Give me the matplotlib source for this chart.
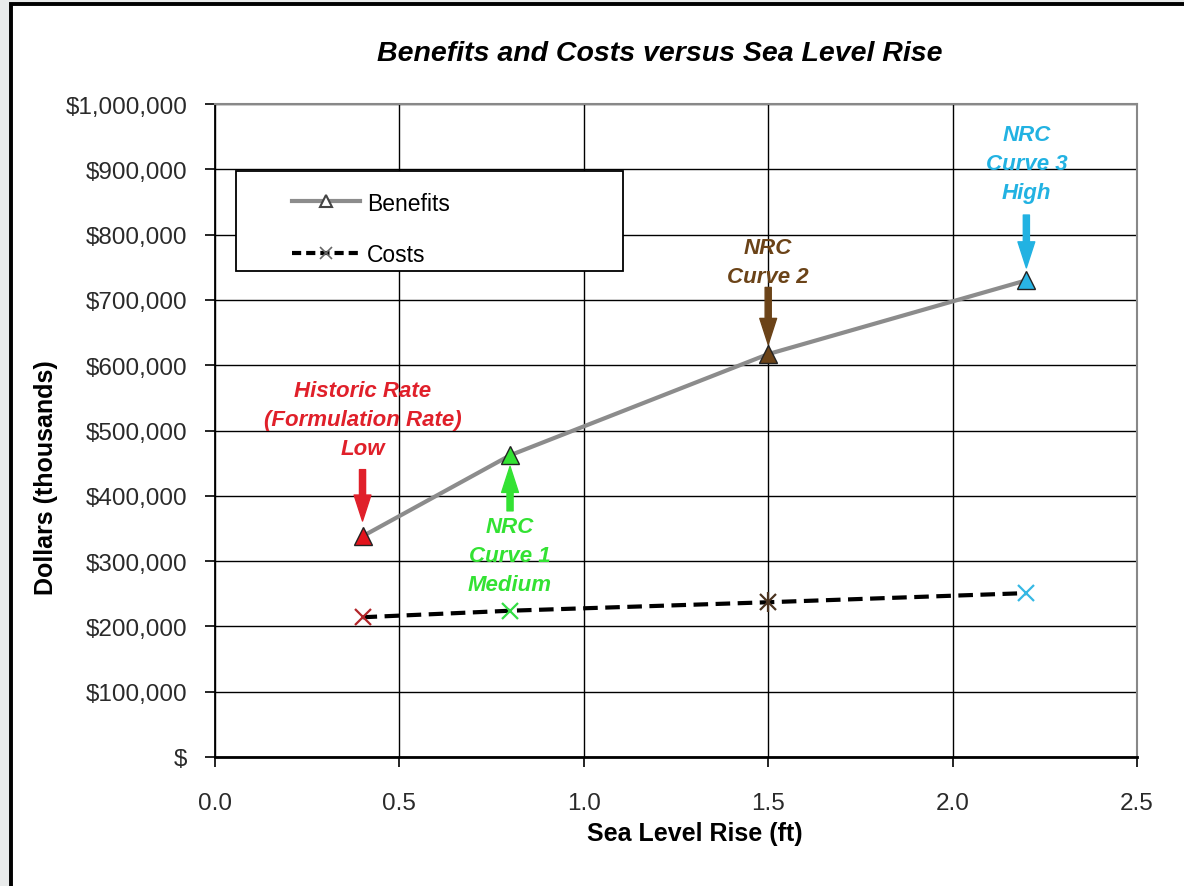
import numpy as np
import matplotlib
matplotlib.use('Agg')
import matplotlib.pyplot as plt
from matplotlib.patches import Rectangle
from matplotlib.lines import Line2D
from matplotlib.ticker import FuncFormatter

plt.rcParams['font.family'] = ['Liberation Sans', 'DejaVu Sans']

# --- data ---
sea_level = [0.4, 0.8, 1.5, 2.2]
benefits = [338000, 462000, 617000, 730000]
costs = [214000, 224000, 237000, 251000]

point_colors = ['#e3141c', '#33e233', '#6b4318', '#29b4e4']
cost_colors = ['#b3262a', '#33dd44', '#4a3320', '#35b8e4']

ann_labels = ['Historic Rate\n(Formulation Rate)\nLow', 'NRC\nCurve 1\nMedium',
              'NRC\nCurve 2', 'NRC\nCurve 3\nHigh']
ann_colors = ['#e0202a', '#33e233', '#6b4318', '#22b2e2']
# (text offset, arrow tail offset, arrow head gap) in points, sign = above(+)/below(-)
ann_layout = [(56, 48, 11), (-44, -40, 8), (48, 48, 7), (56, 47, 9)]

fig = plt.figure(figsize=(11.84, 8.87), dpi=100)
fig.patch.set_facecolor('#e9ebeb')
frame = Rectangle((11 / 1184, -0.05), 1.2, 1.05 - 5 / 887, transform=fig.transFigure,
                  facecolor='white', edgecolor='black', lw=2.8, zorder=-5)
fig.patches.append(frame)

ax = fig.add_axes([215 / 1184, 1 - 758 / 887, 922 / 1184, 653 / 887])
ax.set_zorder(2)
ax.set_facecolor('white')

ax.plot(sea_level, benefits, color='#8c8c8c', lw=3, zorder=3)
ax.plot(sea_level, costs, color='black', lw=3, dashes=(3.5, 1.8), zorder=3)
for x, b, c, pc, cc in zip(sea_level, benefits, costs, point_colors, cost_colors):
    ax.plot(x, b, marker='^', ms=13, mfc=pc, mec='#222222', mew=1, zorder=5)
    ax.plot(x, c, marker='x', ms=12, mec=cc, mew=1.6, zorder=5)
# star marker at 1.5 ft
ax.plot(sea_level[2], costs[2], marker='|', ms=14, mec=cost_colors[2], mew=1.6, zorder=5)

for x, b, lab, col, (t_off, a0, gap) in zip(sea_level, benefits, ann_labels, ann_colors, ann_layout):
    ax.annotate('', xy=(x, b), xytext=(0, a0), textcoords='offset points',
                arrowprops=dict(arrowstyle='simple,head_length=1.7,head_width=1.1,tail_width=0.4',
                                color=col, mutation_scale=11, shrinkA=0, shrinkB=gap),
                zorder=6)
    ax.annotate(lab, xy=(x, b), xytext=(0, t_off), textcoords='offset points',
                ha='center', va='bottom' if t_off > 0 else 'top', color=col,
                fontsize=16, fontweight='bold', fontstyle='italic', linespacing=1.5, zorder=7)

ax.set_xlim(0, 2.5)
ax.set_ylim(0, 1000000)
ax.set_xticks(np.arange(0, 2.51, 0.5))
ax.set_yticks(np.arange(0, 1000001, 100000))
ax.xaxis.set_major_formatter(FuncFormatter(lambda v, p: f'{v:.1f}'))
ax.yaxis.set_major_formatter(FuncFormatter(lambda v, p: '$' if v == 0 else f'${v:,.0f}'))
ax.grid(True, color='black', lw=1)
ax.set_axisbelow(True)
ax.tick_params(axis='both', direction='out', length=7, width=1.2, labelsize=17.5,
               labelcolor='#2a2a2a', color='black')
ax.tick_params(axis='x', pad=18)
ax.tick_params(axis='y', pad=13)

for s in ['top', 'right']:
    ax.spines[s].set_color('#888888')
    ax.spines[s].set_linewidth(1.5)
ax.spines['left'].set_linewidth(1.3)
ax.spines['bottom'].set_linewidth(2)

ax.set_xlabel('Sea Level Rise (ft)', fontsize=18, fontweight='bold')
ax.xaxis.set_label_coords(0.52, -0.098)
ax.set_ylabel('Dollars (thousands)', fontsize=18, fontweight='bold')
ax.yaxis.set_label_coords(-0.17, 0.43)

fig.text(660 / 1184, 1 - 54 / 887, 'Benefits and Costs versus Sea Level Rise', ha='center',
         va='center', fontsize=20.5, fontweight='bold', fontstyle='italic')

# legend box
ax.add_patch(Rectangle((0.0228, 0.744), 0.4197, 0.153, transform=ax.transAxes,
                       facecolor='white', edgecolor='black', lw=1.3, zorder=8))
handles = [Line2D([], [], color='#8c8c8c', lw=3, marker='^', ms=8, mfc='white', mec='#444444', mew=1.5),
           Line2D([], [], color='black', lw=3, dashes=(2.2, 1.2), marker='x', ms=9, mec='#666666', mew=1.2)]
leg = ax.legend(handles, ['Benefits', 'Costs'], loc='upper left', bbox_to_anchor=(0.083, 0.866),
                frameon=False, fontsize=16.5, handlelength=3.0, handletextpad=0.3,
                labelspacing=1.25, borderpad=0, borderaxespad=0)
leg.set_zorder(9)

fig.savefig('out.png', dpi=100, facecolor=fig.get_facecolor())
